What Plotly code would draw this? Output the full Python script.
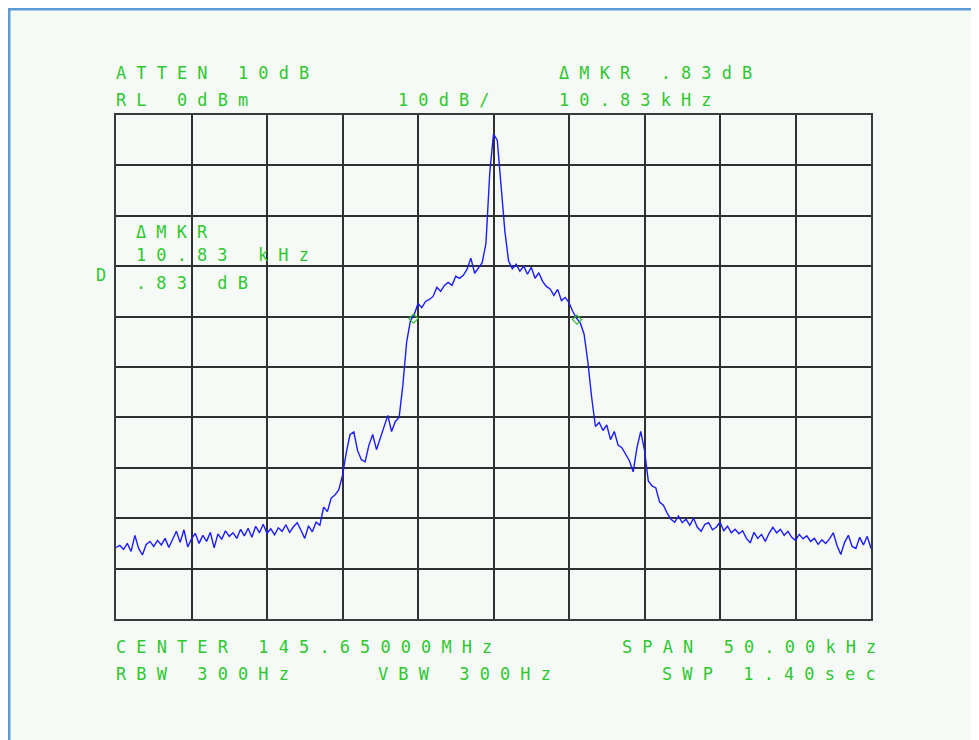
import plotly.graph_objects as go

freq_start_khz = -25.0
freq_step_khz = 0.25
level_dbm = [
    -85.8, -85.4, -86.2, -85.0, -86.6, -83.4, -86.0, -87.3, -85.2, -84.6,
    -85.6, -84.4, -85.3, -84.0, -85.8, -84.2, -82.6, -84.8, -82.3, -85.7,
    -84.1, -83.0, -85.0, -83.4, -84.6, -82.8, -85.9, -83.1, -84.2, -82.5,
    -83.6, -82.9, -84.0, -82.2, -83.5, -82.0, -83.8, -81.6, -82.9, -81.2,
    -83.0, -82.1, -83.3, -81.9, -82.6, -81.3, -82.8, -81.7, -80.9, -82.4,
    -84.0, -81.5, -82.7, -80.8, -81.4, -77.8, -78.7, -76.0, -75.4, -74.4,
    -71.5, -67.0, -63.4, -62.9, -66.6, -68.4, -68.8, -65.5, -63.4, -66.4,
    -64.0, -62.0, -59.6, -62.8, -60.8, -60.0, -53.5, -45.0, -40.8, -39.6,
    -37.4, -38.2, -37.0, -36.6, -36.0, -34.2, -35.0, -33.8, -33.2, -33.8,
    -32.0, -32.4, -31.8, -30.6, -28.4, -31.4, -30.3, -29.3, -25.5, -11.5,
    -3.8, -5.0, -14.0, -23.0, -29.0, -30.5, -29.6, -31.0, -30.0, -31.6,
    -30.2, -32.4, -31.3, -33.0, -34.0, -34.5, -35.8, -34.6, -36.8, -36.2,
    -37.2, -39.0, -40.3, -41.3, -43.5, -49.0, -56.0, -61.8, -61.0, -62.6,
    -61.5, -64.4, -62.8, -65.5, -66.0, -67.2, -68.6, -70.8, -66.0, -62.8,
    -66.5, -72.6, -73.6, -74.0, -76.8, -77.4, -79.0, -80.2, -80.8, -79.6,
    -80.9, -80.2, -81.4, -80.0, -81.8, -82.6, -81.2, -80.9, -82.3, -81.8,
    -80.8, -82.5, -81.6, -82.9, -82.2, -83.1, -82.5, -84.0, -84.9, -82.8,
    -84.0, -83.2, -84.6, -83.0, -81.8, -82.9, -82.2, -83.4, -82.6, -83.8,
    -84.4, -83.2, -84.1, -83.5, -84.6, -84.0, -85.2, -84.3, -85.0, -84.1,
    -82.9, -85.4, -87.2, -84.8, -83.4, -85.6, -86.0, -83.8, -85.3, -83.6,
    -86.0,
]
freq_khz = [freq_start_khz + freq_step_khz * i for i in range(len(level_dbm))]

marker_freq_khz = [-5.3, 5.53]
marker_level_dbm = [-40.4, -40.6]

header_left = ["ATTEN 10dB", "RL 0dBm"]
header_mid = "10dB/"
header_right = ["\u0394MKR .83dB", "10.83kHz"]
footer_left = ["CENTER 145.65000MHz", "RBW 300Hz"]
footer_mid = "VBW 300Hz"
footer_right = ["SPAN 50.00kHz", "SWP 1.40sec"]
inset_lines = ["\u0394MKR", "10.83 kHz", ".83 dB"]
side_label = "D"

# ---------------- styling ----------------
GREEN = "#2ec82e"
TRACE = "#1c1cff"
GRID = "#303030"
FONT = dict(family="DejaVu Sans Mono", size=16.9, color=GREEN)


def spaced(s):
    """Wide character pitch like the analyzer's stroke font."""
    return "\u00a0".join(ch if ch != " " else "\u00a0" for ch in s)


fig = go.Figure()
fig.add_trace(go.Scatter(
    x=freq_khz, y=level_dbm, mode="lines",
    line=dict(color=TRACE, width=1.4), hoverinfo="skip", showlegend=False,
))
fig.add_trace(go.Scatter(
    x=marker_freq_khz, y=marker_level_dbm, mode="markers",
    marker=dict(symbol="diamond-open", size=7, color="#33bb33", line=dict(width=1.2)),
    hoverinfo="skip", showlegend=False,
))

# page offset of the figure (browser body margin)
OFF = 8
PW, PH = 755, 504
L, T = 116 - OFF, 115 - OFF
R, B = 979 - L - PW, 740 - T - PH


def px_x(px):
    """page pixel -> paper x"""
    return (px - OFF - L) / PW


def px_y(py):
    """page pixel -> paper y"""
    return (T + PH - (py - OFF)) / PH


ann = []


def add_text(txt, x, y, anchor="left"):
    ann.append(dict(text=spaced(txt), x=x, y=y, xref="paper", yref="paper",
                    xanchor=anchor, yanchor="middle", showarrow=False, font=FONT))


add_text(header_left[0], px_x(114), px_y(73))
add_text(header_left[1], px_x(114), px_y(100))
add_text(header_mid, px_x(396), px_y(100))
add_text(header_right[0], px_x(557), px_y(73))
add_text(header_right[1], px_x(557), px_y(100))
add_text(footer_left[0], px_x(114), px_y(647))
add_text(footer_left[1], px_x(114), px_y(674))
add_text(footer_mid, px_x(376), px_y(674))
add_text(footer_right[0], px_x(878), px_y(647), "right")
add_text(footer_right[1], px_x(878), px_y(674), "right")
add_text(inset_lines[0], px_x(134), px_y(232))
add_text(inset_lines[1], px_x(134), px_y(255))
add_text(inset_lines[2], px_x(134), px_y(283))
add_text(side_label, px_x(94), px_y(275))

shapes = [dict(
    type="rect", xref="paper", yref="paper",
    x0=px_x(9.2), x1=px_x(1010), y0=px_y(780), y1=px_y(9.2),
    fillcolor="#f5faf7", line=dict(color="#5b9bd5", width=2.5), layer="below",
)]

axis_common = dict(showgrid=True, gridcolor=GRID, gridwidth=1.6, zeroline=False,
                   showticklabels=False, ticks="", showline=True, mirror=True,
                   linecolor="#3a3a3a", linewidth=2, fixedrange=True)

fig.update_layout(
    width=979, height=740,
    margin=dict(l=L, r=R, t=T, b=B, autoexpand=False),
    paper_bgcolor="white", plot_bgcolor="rgba(0,0,0,0)",
    xaxis=dict(range=[-25, 25], dtick=5, tick0=-25, **axis_common),
    yaxis=dict(range=[-100, 0], dtick=10, tick0=-100, **axis_common),
    annotations=ann, shapes=shapes, showlegend=False, hovermode=False,
)

fig.write_html("out.html", config={"displayModeBar": False})
